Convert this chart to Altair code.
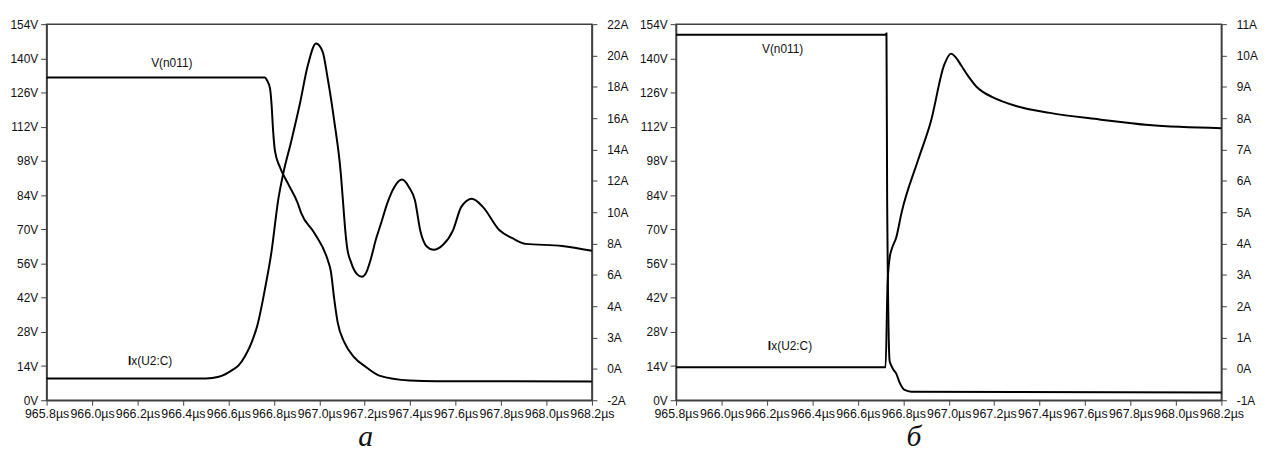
import altair as alt
import pandas as pd

# ---------------- data ----------------
# panel "а"
a_v_t = [965.8, 966.761, 966.770, 966.783, 966.790, 966.797, 966.805, 966.827, 966.863,
         966.906, 966.921, 966.979, 967.037, 967.051, 967.066, 967.081, 967.110, 967.153,
         967.204, 967.264, 967.399, 967.516, 968.2]
a_v = [132.2, 132.2, 131.0, 127.8, 121.2, 110.2, 102.1, 95.4, 88.6,
       80.5, 76.5, 68.4, 57.5, 52.8, 41.3, 31.9, 23.8, 17.7,
       13.7, 10.1, 8.1, 7.8, 7.7]

a_i_t = [965.8, 966.501, 966.558, 966.615, 966.645, 966.675, 966.703, 966.728, 966.761,
         966.790, 966.819, 966.841, 966.877, 966.914, 966.950, 966.986, 967.015, 967.037,
         967.066, 967.095, 967.107, 967.114, 967.122, 967.140, 967.166, 967.188, 967.206,
         967.226, 967.250, 967.272, 967.300, 967.330, 967.364, 967.395, 967.421, 967.445,
         967.473, 967.502, 967.545, 967.589, 967.625, 967.672, 967.720, 967.792, 967.850,
         967.908, 968.069, 968.2]
a_i = [-0.61, -0.61, -0.50, -0.09, 0.23, 0.86, 1.71, 2.8, 5.1,
       7.5, 10.76, 12.44, 14.55, 16.87, 19.39, 20.76, 20.23, 18.55,
       15.81, 12.44, 10.2, 8.9, 7.8, 6.8, 6.05, 5.88, 6.13,
       6.97, 8.3, 9.3, 10.6, 11.6, 12.08, 11.6, 10.76, 8.8,
       7.81, 7.6, 7.92, 8.86, 10.34, 10.86, 10.34, 8.86, 8.34,
       7.98, 7.85, 7.54]

# panel "б"
b_v_t = [965.8, 966.722, 966.726, 966.729, 966.740, 966.747, 966.756, 966.769, 966.785,
         966.806, 966.835, 968.2]
b_v = [149.7, 149.7, 150.2, 82.0, 16.0, 14.3, 12.6, 10.9, 7.0,
       4.2, 3.5, 3.2]

b_i_t = [965.8, 966.722, 966.731, 966.741, 966.748, 966.770, 966.792, 966.864, 966.922,
         966.980, 967.010, 967.030, 967.055, 967.085, 967.120, 967.150, 967.190, 967.300,
         967.445, 967.663, 967.881, 968.2]
b_i = [0.05, 0.05, 2.75, 3.59, 3.80, 4.22, 4.97, 6.64, 7.91,
       9.70, 10.06, 9.95, 9.68, 9.35, 9.02, 8.84, 8.68, 8.38,
       8.17, 7.96, 7.78, 7.68]

x_ticks = [965.8, 966.0, 966.2, 966.4, 966.6, 966.8, 967.0, 967.2, 967.4, 967.6, 967.8, 968.0, 968.2]
v_ticks = [0, 14, 28, 42, 56, 70, 84, 98, 112, 126, 140, 154]
a_ticks_a = [-2, 0, 2, 4, 6, 8, 10, 12, 14, 16, 18, 20, 22]
a_ticks_b = [-1, 0, 1, 2, 3, 4, 5, 6, 7, 8, 9, 10, 11]

# trace labels (text, time, voltage-scale position); "I" is drawn bold
a_vlabel = {"s": ["V(n011)"], "t": [966.351], "v": [137.9]}
a_ilabel_b = {"s": ["I"], "t": [966.158], "v": [15.9]}
a_ilabel_n = {"s": ["x(U2:C)"], "t": [966.173], "v": [15.9]}
b_vlabel = {"s": ["V(n011)"], "t": [966.269], "v": [144.0]}
b_ilabel_b = {"s": ["I"], "t": [966.204], "v": [22.0]}
b_ilabel_n = {"s": ["x(U2:C)"], "t": [966.219], "v": [22.0]}

FONT = "Liberation Sans"
AX = "#404040"
W, H = 551, 380


def panel(vt, vv, it, iv, adom, aticks, aexpr, vlab, ilab_b, ilab_n, title, tdx):
    dv = pd.DataFrame({"t": vt, "v": vv})
    di = pd.DataFrame({"t": it, "a": iv})
    xs = alt.Scale(domain=[965.8, 968.2], nice=False, zero=False)
    xax = alt.Axis(values=x_ticks, labelExpr="format(datum.value, '.1f') + 'µs'",
                   title=None, labelOverlap=False, labelFlush=False, tickSize=5,
                   labelPadding=2, labelFontSize=12.5)
    xenc = alt.X("t:Q", scale=xs, axis=xax)
    vs = alt.Scale(domain=[0, 154], nice=False, zero=False)
    vline = alt.Chart(dv).mark_line(color="black", strokeWidth=2, interpolate="monotone").encode(
        x=xenc,
        y=alt.Y("v:Q", scale=vs,
                axis=alt.Axis(values=v_ticks, labelExpr="datum.value + 'V'", orient="left",
                              title=None, tickSize=6, labelPadding=3)),
    )

    def label(d, align, weight):
        return alt.Chart(pd.DataFrame(d)).mark_text(
            font=FONT, fontSize=12, color="#111", align=align, fontWeight=weight
        ).encode(x=xenc, y=alt.Y("v:Q", scale=vs, axis=None), text="s:N")

    txt = alt.layer(label(vlab, "center", "normal"), label(ilab_b, "left", "bold"),
                    label(ilab_n, "left", "normal"))
    iline = alt.Chart(di).mark_line(color="black", strokeWidth=2, interpolate="monotone").encode(
        x=xenc,
        y=alt.Y("a:Q", scale=alt.Scale(domain=adom, nice=False, zero=False),
                axis=alt.Axis(values=aticks, labelExpr=aexpr, orient="right",
                              title=None, tickSize=5, labelPadding=10)),
    )
    return alt.layer(vline, iline, txt).resolve_scale(y="independent").properties(
        width=W, height=H,
        title=alt.TitleParams(title, orient="bottom", font="Liberation Serif", fontStyle="italic",
                              fontWeight="normal", fontSize=30, color="#111", dx=tdx, offset=3,
                              anchor="middle", frame="group"),
    )


left = panel(a_v_t, a_v, a_i_t, a_i, [-2, 22], a_ticks_a,
             "datum.value == 2 ? '3A' : datum.value + 'A'",
             a_vlabel, a_ilabel_b, a_ilabel_n, "а", 47)
right = panel(b_v_t, b_v, b_i_t, b_i, [-1, 11], a_ticks_b,
              "datum.value + 'A'", b_vlabel, b_ilabel_b, b_ilabel_n, "б", -35)

chart = alt.hconcat(left, right, spacing=9).properties(
    padding={"top": 7, "left": 1, "right": 0, "bottom": 0}
).configure_view(stroke=AX, strokeWidth=1.5).configure_axis(
    grid=False, domainColor=AX, domainWidth=1.5, tickColor=AX, labelColor="#111",
    labelFont=FONT, labelFontSize=12,
)

chart.save("out.html", embed_options={"renderer": "svg", "actions": False})
